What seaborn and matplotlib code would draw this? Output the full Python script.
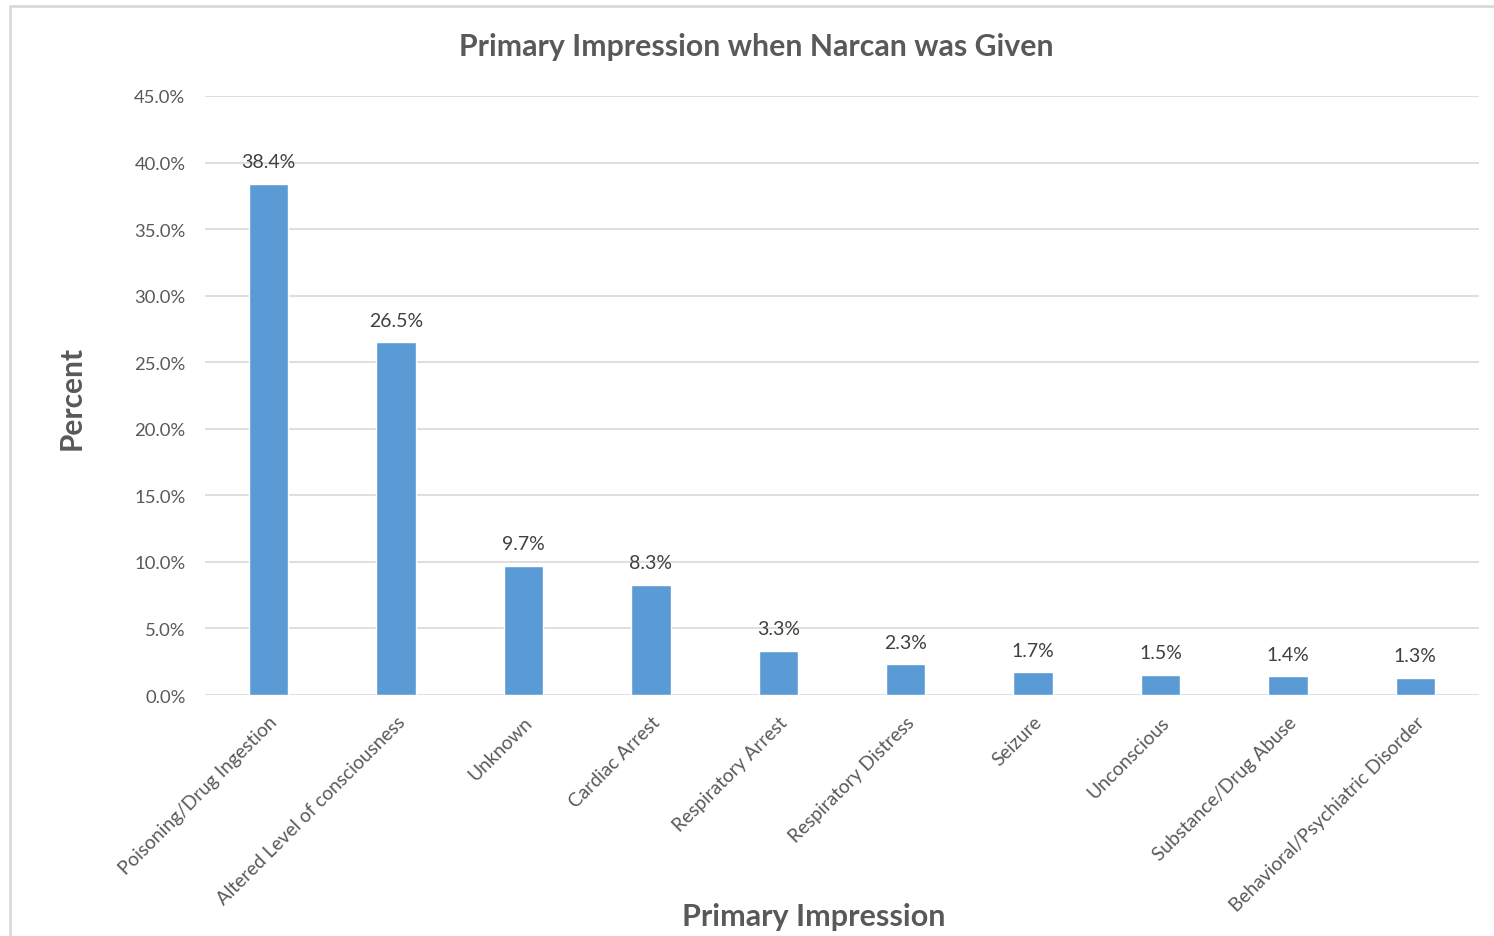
import matplotlib
matplotlib.use("Agg")
import matplotlib.pyplot as plt
import seaborn as sns
import pandas as pd

categories = ["Poisoning/Drug Ingestion", "Altered Level of consciousness", "Unknown",
              "Cardiac Arrest", "Respiratory Arrest", "Respiratory Distress", "Seizure",
              "Unconscious", "Substance/Drug Abuse", "Behavioral/Psychiatric Disorder"]
percent = [38.4, 26.5, 9.7, 8.3, 3.3, 2.3, 1.7, 1.5, 1.4, 1.3]
y_ticks = [0, 5, 10, 15, 20, 25, 30, 35, 40, 45]

sns.set_theme(style="white")
plt.rcParams['font.family'] = ['Lato', 'DejaVu Sans']

TXT = "#595959"
BAR = "#5B9BD5"
GRID = "#D9D9D9"

fig = plt.figure(figsize=(14.94, 9.37), dpi=100)
ax = fig.add_axes([0.1372, 0.2572, 0.8528, 0.6393])

df = pd.DataFrame({"cat": categories, "pct": percent})
sns.barplot(data=df, x="cat", y="pct", color=BAR, width=0.31, saturation=1, ax=ax)

ax.set_ylim(0, 45)
ax.set_xlim(-0.5, len(categories) - 0.5)
ax.set_yticks(y_ticks)
ax.set_yticklabels([f"{v:.1f}%" for v in y_ticks], color=TXT, fontsize=13.3)
ax.yaxis.grid(True, color=GRID, linewidth=1.2)
ax.set_axisbelow(True)
for s in ax.spines.values():
    s.set_visible(False)
ax.tick_params(axis="both", length=0)
ax.tick_params(axis="y", pad=14)
ax.tick_params(axis="x", pad=13)
ax.set_xticks(range(len(categories)))
ax.set_xticklabels(categories, rotation=45, ha="right", rotation_mode="anchor",
                   color=TXT, fontsize=13.8)

for i, v in enumerate(percent):
    ax.annotate(f"{v:.1f}%", (i, v), xytext=(0, 16), textcoords="offset points",
                ha="center", va="center", color="#404040", fontsize=14)

ax.set_xlabel("Primary Impression", fontsize=22, fontweight="bold", color=TXT)
ax.set_ylabel("Percent", fontsize=21.5, fontweight="bold", color=TXT)
ax.xaxis.set_label_coords(0.478, -0.345)
ax.yaxis.set_label_coords(-0.094, 0.497)

fig.text(0.506, 0.950, "Primary Impression when Narcan was Given", ha="center", va="center",
         fontsize=21.8, fontweight="bold", color=TXT)

# outer chart frame (top and left edges visible)
fig.add_artist(plt.Line2D([10/1494, 1], [1 - 7/937, 1 - 7/937], color="#D9D9D9", linewidth=2,
                          transform=fig.transFigure))
fig.add_artist(plt.Line2D([10/1494, 10/1494], [0, 1 - 7/937], color="#D9D9D9", linewidth=2,
                          transform=fig.transFigure))

fig.savefig("out.png", dpi=100, facecolor="white")
